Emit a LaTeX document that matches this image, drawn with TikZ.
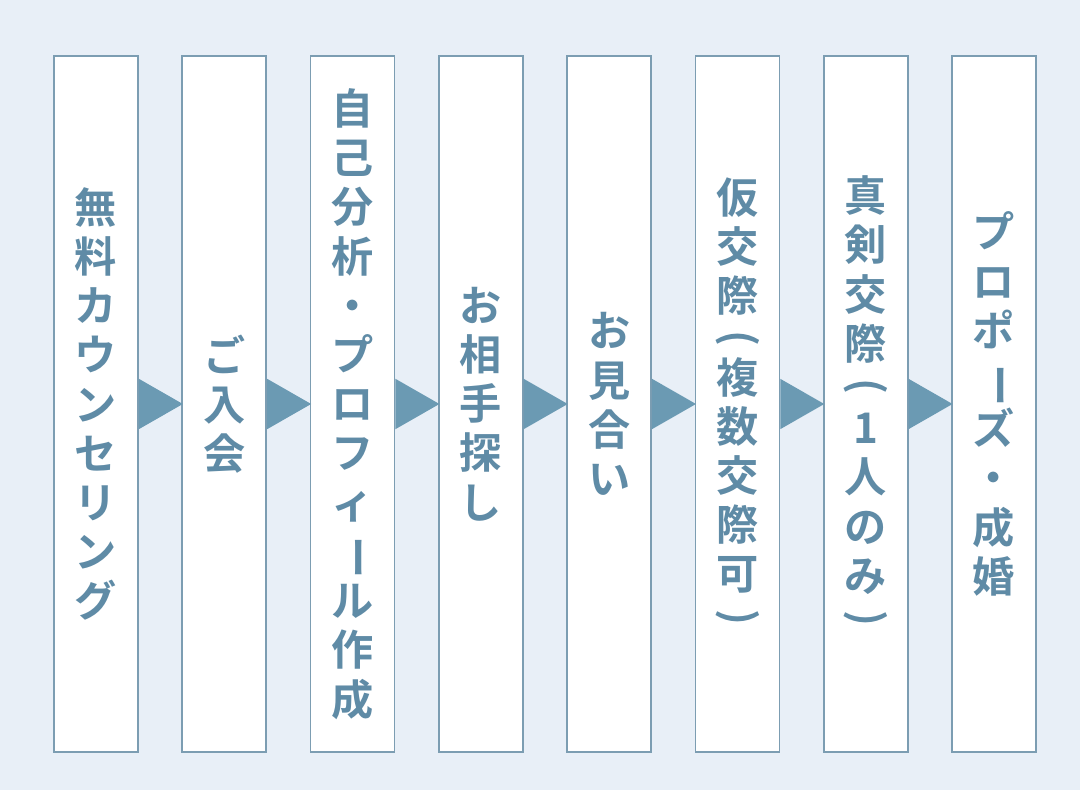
\documentclass[tikz,border=0pt]{standalone}
\usepackage{fontspec}
\newfontfamily\jpfont{Noto Sans CJK JP}[BoldFont={Noto Sans CJK JP Bold}]
\usetikzlibrary{calc}
\definecolor{bgc}{HTML}{E8EFF7}
\definecolor{linec}{HTML}{7C9DB2}
\definecolor{textc}{HTML}{5F8BA6}
\definecolor{arrowc}{HTML}{6B9AB3}
\newcommand{\vrot}[1]{\rotatebox[origin=c]{-90}{#1}}
\tikzset{
  stepbox/.style={draw=linec, line width=1.2pt, fill=white, minimum width=2.1cm, minimum height=17.4cm, inner sep=0pt},
  steptext/.style={text=textc, align=center, font=\jpfont\bfseries\fontsize{30}{35}\selectfont, inner sep=0pt},
}
\begin{document}
\begin{tikzpicture}
  \fill[bgc] (0,0) rectangle (27,19.75);
  \useasboundingbox (0,0) rectangle (27,19.75);
  \foreach \i/\lbl in {0/{無\\料\\カ\\ウ\\ン\\セ\\リ\\ン\\グ},
      1/{ご\\入\\会},
      2/{自\\己\\分\\析\\・\\プ\\ロ\\フ\\ィ\\\vrot{ー}\\ル\\作\\成},
      3/{お\\相\\手\\探\\し},
      4/{お\\見\\合\\い},
      5/{仮\\交\\際\\[-6pt]\vrot{(}\\[-6pt]複\\数\\交\\際\\可\\[-6pt]\vrot{)}},
      6/{真\\剣\\交\\際\\[-6pt]\vrot{(}\\[-4pt]1\\人\\の\\み\\[-6pt]\vrot{)}},
      7/{プ\\ロ\\ポ\\\vrot{ー}\\ズ\\・\\成\\婚}} {
    \node[stepbox] (f\i) at ({2.4+3.207*\i}, 9.65) {};
    \node[steptext] (t\i) at (f\i.center) {\lbl};
  }
  \foreach \i in {0,...,6} {
    \fill[arrowc] ($(f\i.east)+(0,0.63)$) -- ($(f\i.east)+(1.1,0)$) -- ($(f\i.east)+(0,-0.63)$) -- cycle;
  }
\end{tikzpicture}
\end{document}
